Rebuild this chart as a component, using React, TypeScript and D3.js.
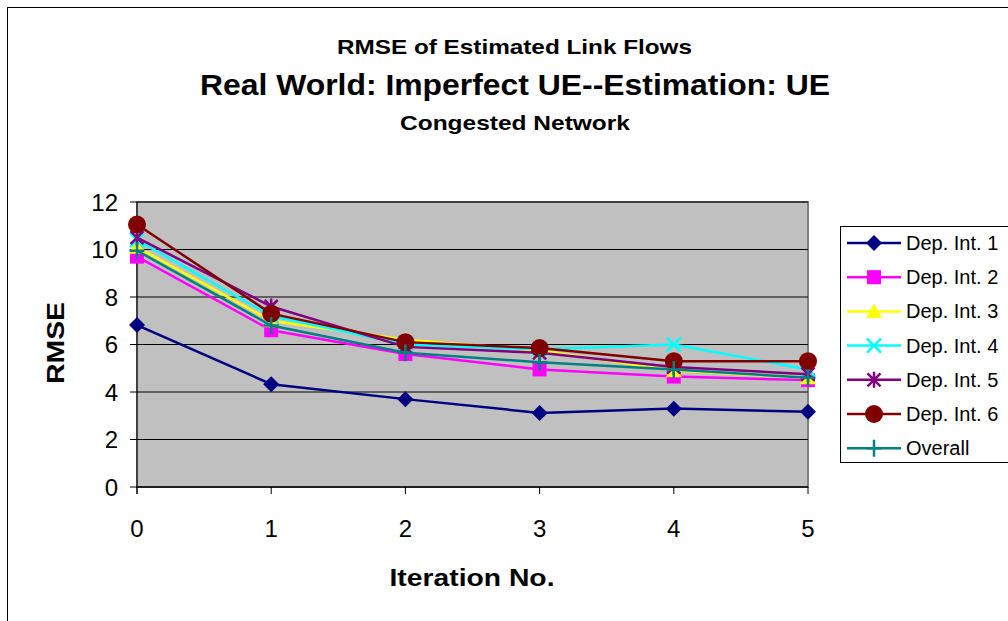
import React from "react";
import * as d3 from "d3";

const iterations = [0, 1, 2, 3, 4, 5];
const seriesNames = ["Dep. Int. 1", "Dep. Int. 2", "Dep. Int. 3", "Dep. Int. 4", "Dep. Int. 5", "Dep. Int. 6", "Overall"];
const dep1 = [6.82, 4.33, 3.7, 3.12, 3.3, 3.17];
const dep2 = [9.7, 6.6, 5.6, 4.95, 4.65, 4.5];
const dep3 = [10.1, 7.0, 6.2, 5.75, 4.9, 4.6];
const dep4 = [10.4, 7.2, 6.0, 5.8, 6.0, 4.95];
const dep5 = [10.5, 7.6, 5.9, 5.65, 5.05, 4.75];
const dep6 = [11.05, 7.3, 6.1, 5.85, 5.3, 5.3];
const overall = [9.95, 6.8, 5.65, 5.25, 4.95, 4.6];
const yTicks = [0, 2, 4, 6, 8, 10, 12];
const colors = ["#000080", "#FF00FF", "#FFFF00", "#00FFFF", "#800080", "#800000", "#008080"];
const markers = ["diamond", "square", "triangle", "x", "star", "circle", "plus"];
const allSeries = [dep1, dep2, dep3, dep4, dep5, dep6, overall];

function Marker({ type, x, y, color }: { type: string; x: number; y: number; color: string }) {
  switch (type) {
    case "diamond":
      return <path d={`M${x},${y - 8}L${x + 8},${y}L${x},${y + 8}L${x - 8},${y}Z`} fill={color} />;
    case "square":
      return <rect x={x - 7} y={y - 7} width={14} height={14} fill={color} />;
    case "triangle":
      return <path d={`M${x},${y - 8}L${x + 8},${y + 6.5}L${x - 8},${y + 6.5}Z`} fill={color} />;
    case "x":
      return <path d={`M${x - 7},${y - 7}L${x + 7},${y + 7}M${x - 7},${y + 7}L${x + 7},${y - 7}`} stroke={color} strokeWidth={2.5} />;
    case "star":
      return (
        <path
          d={`M${x - 6.5},${y - 6.5}L${x + 6.5},${y + 6.5}M${x - 6.5},${y + 6.5}L${x + 6.5},${y - 6.5}M${x},${y - 8}L${x},${y + 8}`}
          stroke={color}
          strokeWidth={2.5}
        />
      );
    case "circle":
      return <circle cx={x} cy={y} r={9} fill={color} />;
    case "plus":
      return <path d={`M${x - 7.5},${y}L${x + 7.5},${y}M${x},${y - 8.5}L${x},${y + 8.5}`} stroke={color} strokeWidth={2.5} />;
  }
  return null;
}

export default function App() {
  const W = 1008, H = 621;
  const left = 137, right = 808, top = 202, bottom = 487;
  const x = d3.scaleLinear().domain([0, 5]).range([left, right]);
  const y = d3.scaleLinear().domain([0, 12]).range([bottom, top]);
  const line = d3.line<number>().x((_, i) => x(iterations[i])).y((d) => y(d));
  const font = "'Liberation Sans', Arial, sans-serif";
  const legendTop = 243, legendStep = 34.2;

  return (
    <svg width={W} height={H} style={{ position: "absolute", left: 0, top: 0 }} fontFamily={font}>
      <rect x={0} y={0} width={W} height={H} fill="#fff" />
      <rect x={7.5} y={7.5} width={W + 10} height={H + 10} fill="none" stroke="#000" strokeWidth={1} />
      <text x={514.5} y={54} textAnchor="middle" fontSize={21} fontWeight="bold" textLength={355} lengthAdjust="spacingAndGlyphs">RMSE of Estimated Link Flows</text>
      <text x={515} y={95} textAnchor="middle" fontSize={29} fontWeight="bold" textLength={630} lengthAdjust="spacingAndGlyphs">Real World: Imperfect UE--Estimation: UE</text>
      <text x={515} y={130} textAnchor="middle" fontSize={21} fontWeight="bold" textLength={230} lengthAdjust="spacingAndGlyphs">Congested Network</text>

      <rect x={left} y={top} width={right - left} height={bottom - top} fill="#C0C0C0" stroke="#808080" strokeWidth={2} />
      {yTicks.map((t) => (
        <g key={t}>
          <line x1={left} x2={right} y1={y(t)} y2={y(t)} stroke="#000" strokeWidth={1} />
          <line x1={left - 7} x2={left} y1={y(t)} y2={y(t)} stroke="#000" />
          <text x={left - 19} y={y(t) + 8.5} textAnchor="end" fontSize={24}>{t}</text>
        </g>
      ))}
      <line x1={left} x2={left} y1={top} y2={bottom + 7} stroke="#000" />
      <line x1={left} x2={right} y1={bottom} y2={bottom} stroke="#000" />
      {iterations.map((t) => (
        <g key={t}>
          <line x1={x(t)} x2={x(t)} y1={bottom} y2={bottom + 7} stroke="#000" />
          <text x={x(t)} y={537} textAnchor="middle" fontSize={24}>{t}</text>
        </g>
      ))}
      <text x={472} y={586} textAnchor="middle" fontSize={23} fontWeight="bold" textLength={165} lengthAdjust="spacingAndGlyphs">Iteration No.</text>
      <text transform="translate(64,343) rotate(-90)" textAnchor="middle" fontSize={23} fontWeight="bold" textLength={82} lengthAdjust="spacingAndGlyphs">RMSE</text>

      {allSeries.map((s, i) => (
        <g key={i}>
          <path d={line(s) || ""} fill="none" stroke={colors[i]} strokeWidth={2.5} />
          {s.map((v, j) => (
            <Marker key={j} type={markers[i]} x={x(iterations[j])} y={y(v)} color={colors[i]} />
          ))}
        </g>
      ))}

      <rect x={840.5} y={226.5} width={180} height={236} fill="#fff" stroke="#000" strokeWidth={1} />
      {seriesNames.map((n, i) => {
        const ly = legendTop + i * legendStep;
        return (
          <g key={n}>
            <line x1={847} x2={901} y1={ly} y2={ly} stroke={colors[i]} strokeWidth={2.5} />
            <Marker type={markers[i]} x={874} y={ly} color={colors[i]} />
            <text x={906} y={ly + 7} fontSize={20}>{n}</text>
          </g>
        );
      })}
    </svg>
  );
}
